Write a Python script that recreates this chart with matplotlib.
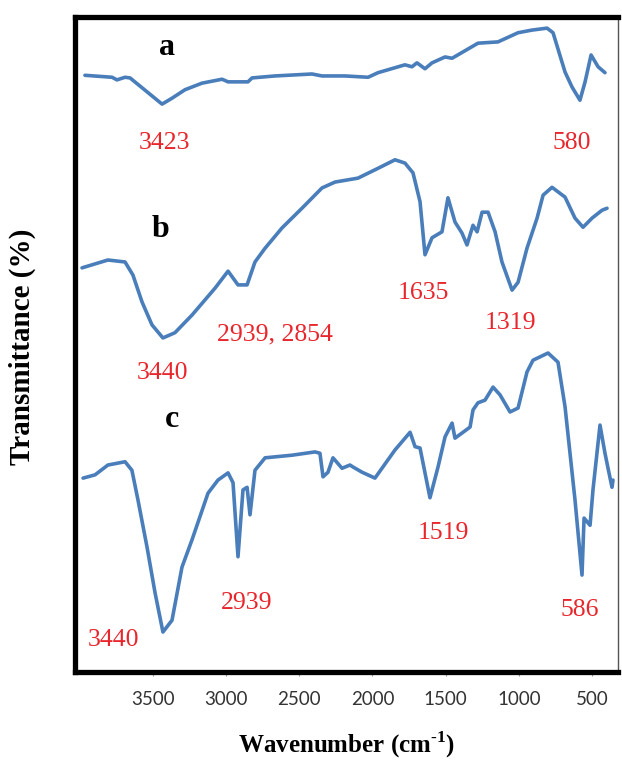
import matplotlib
matplotlib.use("Agg")
import matplotlib.pyplot as plt

# ---- data ----
wn_a = [3965, 3780, 3746, 3691, 3657, 3438, 3370, 3281, 3165, 3028, 2987, 2851, 2823, 2666,
        2413, 2345, 2188, 2030, 1962, 1778, 1730, 1696, 1641, 1593, 1504, 1456, 1279, 1142,
        1005, 910, 807, 766, 684, 636, 582, 547, 506, 458, 411]
t_a = [91.1, 90.8, 90.4, 90.8, 90.7, 86.7, 87.6, 88.9, 89.9, 90.5, 90.1, 90.1, 90.7, 91.0,
       91.3, 91.0, 91.0, 90.8, 91.5, 92.7, 92.4, 93.0, 92.1, 93.0, 93.9, 93.7, 96.0, 96.2,
       97.6, 98.0, 98.3, 97.6, 91.6, 89.3, 87.3, 90.1, 94.2, 92.4, 91.5]

wn_b = [3985, 3808, 3691, 3637, 3575, 3507, 3432, 3350, 3233, 3076, 2987, 2919, 2857, 2803,
        2734, 2618, 2482, 2345, 2256, 2099, 1962, 1846, 1778, 1723, 1675, 1641, 1593, 1525,
        1484, 1436, 1388, 1354, 1313, 1285, 1251, 1210, 1162, 1115, 1046, 1005, 944, 875,
        834, 773, 684, 616, 561, 499, 431, 397]
t_b = [61.7, 62.9, 62.6, 60.6, 56.5, 53.0, 51.0, 51.8, 54.5, 58.6, 61.2, 59.1, 59.1, 62.6,
       64.7, 67.8, 70.8, 73.9, 74.8, 75.4, 76.9, 78.2, 77.7, 76.2, 71.8, 63.7, 66.3, 67.2,
       72.4, 68.7, 67.0, 65.2, 68.2, 67.2, 70.2, 70.2, 67.2, 62.6, 58.3, 59.5, 64.7, 69.3,
       72.8, 74.0, 72.5, 69.3, 67.9, 69.3, 70.5, 70.8]

wn_c = [3978, 3896, 3808, 3691, 3644, 3603, 3541, 3486, 3432, 3370, 3302, 3233, 3124, 3056,
        2987, 2953, 2919, 2885, 2857, 2837, 2803, 2734, 2550, 2393, 2359, 2338, 2304, 2270,
        2208, 2154, 2133, 2071, 1983, 1846, 1743, 1709, 1675, 1607, 1552, 1504, 1456, 1436,
        1381, 1333, 1313, 1279, 1231, 1176, 1128, 1060, 1005, 944, 903, 800, 732, 684, 616,
        568, 554, 513, 493, 445, 411, 390, 363, 356]
t_c = [29.6, 30.1, 31.6, 32.1, 30.8, 26.3, 19.1, 12.1, 6.1, 7.9, 16.0, 20.2, 27.3, 29.3,
       30.4, 28.9, 17.6, 27.8, 28.2, 24.0, 30.8, 32.7, 33.1, 33.6, 33.4, 29.8, 30.5, 32.7,
       31.1, 31.6, 31.3, 30.5, 29.6, 33.9, 36.6, 34.4, 34.2, 26.6, 31.3, 35.9, 38.0, 35.7,
       36.6, 37.4, 40.0, 41.1, 41.5, 43.5, 42.3, 39.7, 40.3, 45.8, 47.6, 48.7, 47.3, 40.5, 26.3,
       14.8, 23.5, 22.4, 27.8, 37.7, 33.4, 31.1, 28.2, 29.3]

x_ticks = [3500, 3000, 2500, 2000, 1500, 1000, 500]

curve_names = ["a", "b", "c"]
name_pos_w = [3404, 3452, 3370]
name_pos_t = [95.4, 67.5, 38.5]

peak_labels = ["3423", "580", "3440", "2939, 2854", "1635", "1319", "3440", "2939", "1519", "586"]
peak_pos_w = [3418, 636, 3438, 2666, 1655, 1060, 3773, 2857, 1518, 582]
peak_pos_t = [80.8, 80.8, 45.6, 51.5, 57.9, 53.3, 4.9, 10.5, 21.2, 9.5]

# ---- figure ----
plt.rcParams["mathtext.fontset"] = "custom"
plt.rcParams["mathtext.rm"] = "Liberation Serif:bold"
plt.rcParams["mathtext.bf"] = "Liberation Serif:bold"
fig = plt.figure(figsize=(6.22, 7.60), dpi=100)
ax = fig.add_axes([75 / 622, 88 / 760, 543 / 622, 655 / 760])

line_color = "#4a7ebb"
for wn, t in [(wn_a, t_a), (wn_b, t_b), (wn_c, t_c)]:
    ax.plot(wn, t, color=line_color, lw=2.6, solid_joinstyle="round", solid_capstyle="round")

ax.set_xlim(4033, 322)
ax.set_ylim(0, 100)
ax.set_xticks(x_ticks)
ax.set_xticklabels([str(v) for v in x_ticks])
ax.set_yticks([])
ax.tick_params(axis="x", direction="out", length=3, width=0.8, color="#999999",
               pad=11, labelsize=13.5, labelcolor="#333333")
for lab in ax.get_xticklabels():
    lab.set_fontfamily(["Lato", "DejaVu Sans"])

for side in ["left", "top", "bottom"]:
    ax.spines[side].set_linewidth(3.8)
    ax.spines[side].set_color("black")
ax.spines["right"].set_linewidth(1.0)
ax.spines["right"].set_color("#555555")

serif = ["Liberation Serif", "DejaVu Serif"]
for name, w, t in zip(curve_names, name_pos_w, name_pos_t):
    ax.text(w, t, name, fontsize=23, fontweight="bold", family=serif,
            ha="center", va="center", color="black")
for lab, w, t in zip(peak_labels, peak_pos_w, peak_pos_t):
    ax.text(w, t, lab, fontsize=18.5, family=serif, ha="center", va="center",
            color="#e8262c")

fig.text(22 / 622, 1 - 347 / 760, "Transmittance (%)", rotation=90, fontsize=21,
         fontweight="bold", family=serif, ha="center", va="center")
fig.text(347 / 622, 1 - 745 / 760, "Wavenumber (cm$^{\\mathrm{\\text{-}1}}$)", fontsize=18,
         fontweight="bold", family=serif, ha="center", va="center")

fig.savefig("out.png", dpi=100)
